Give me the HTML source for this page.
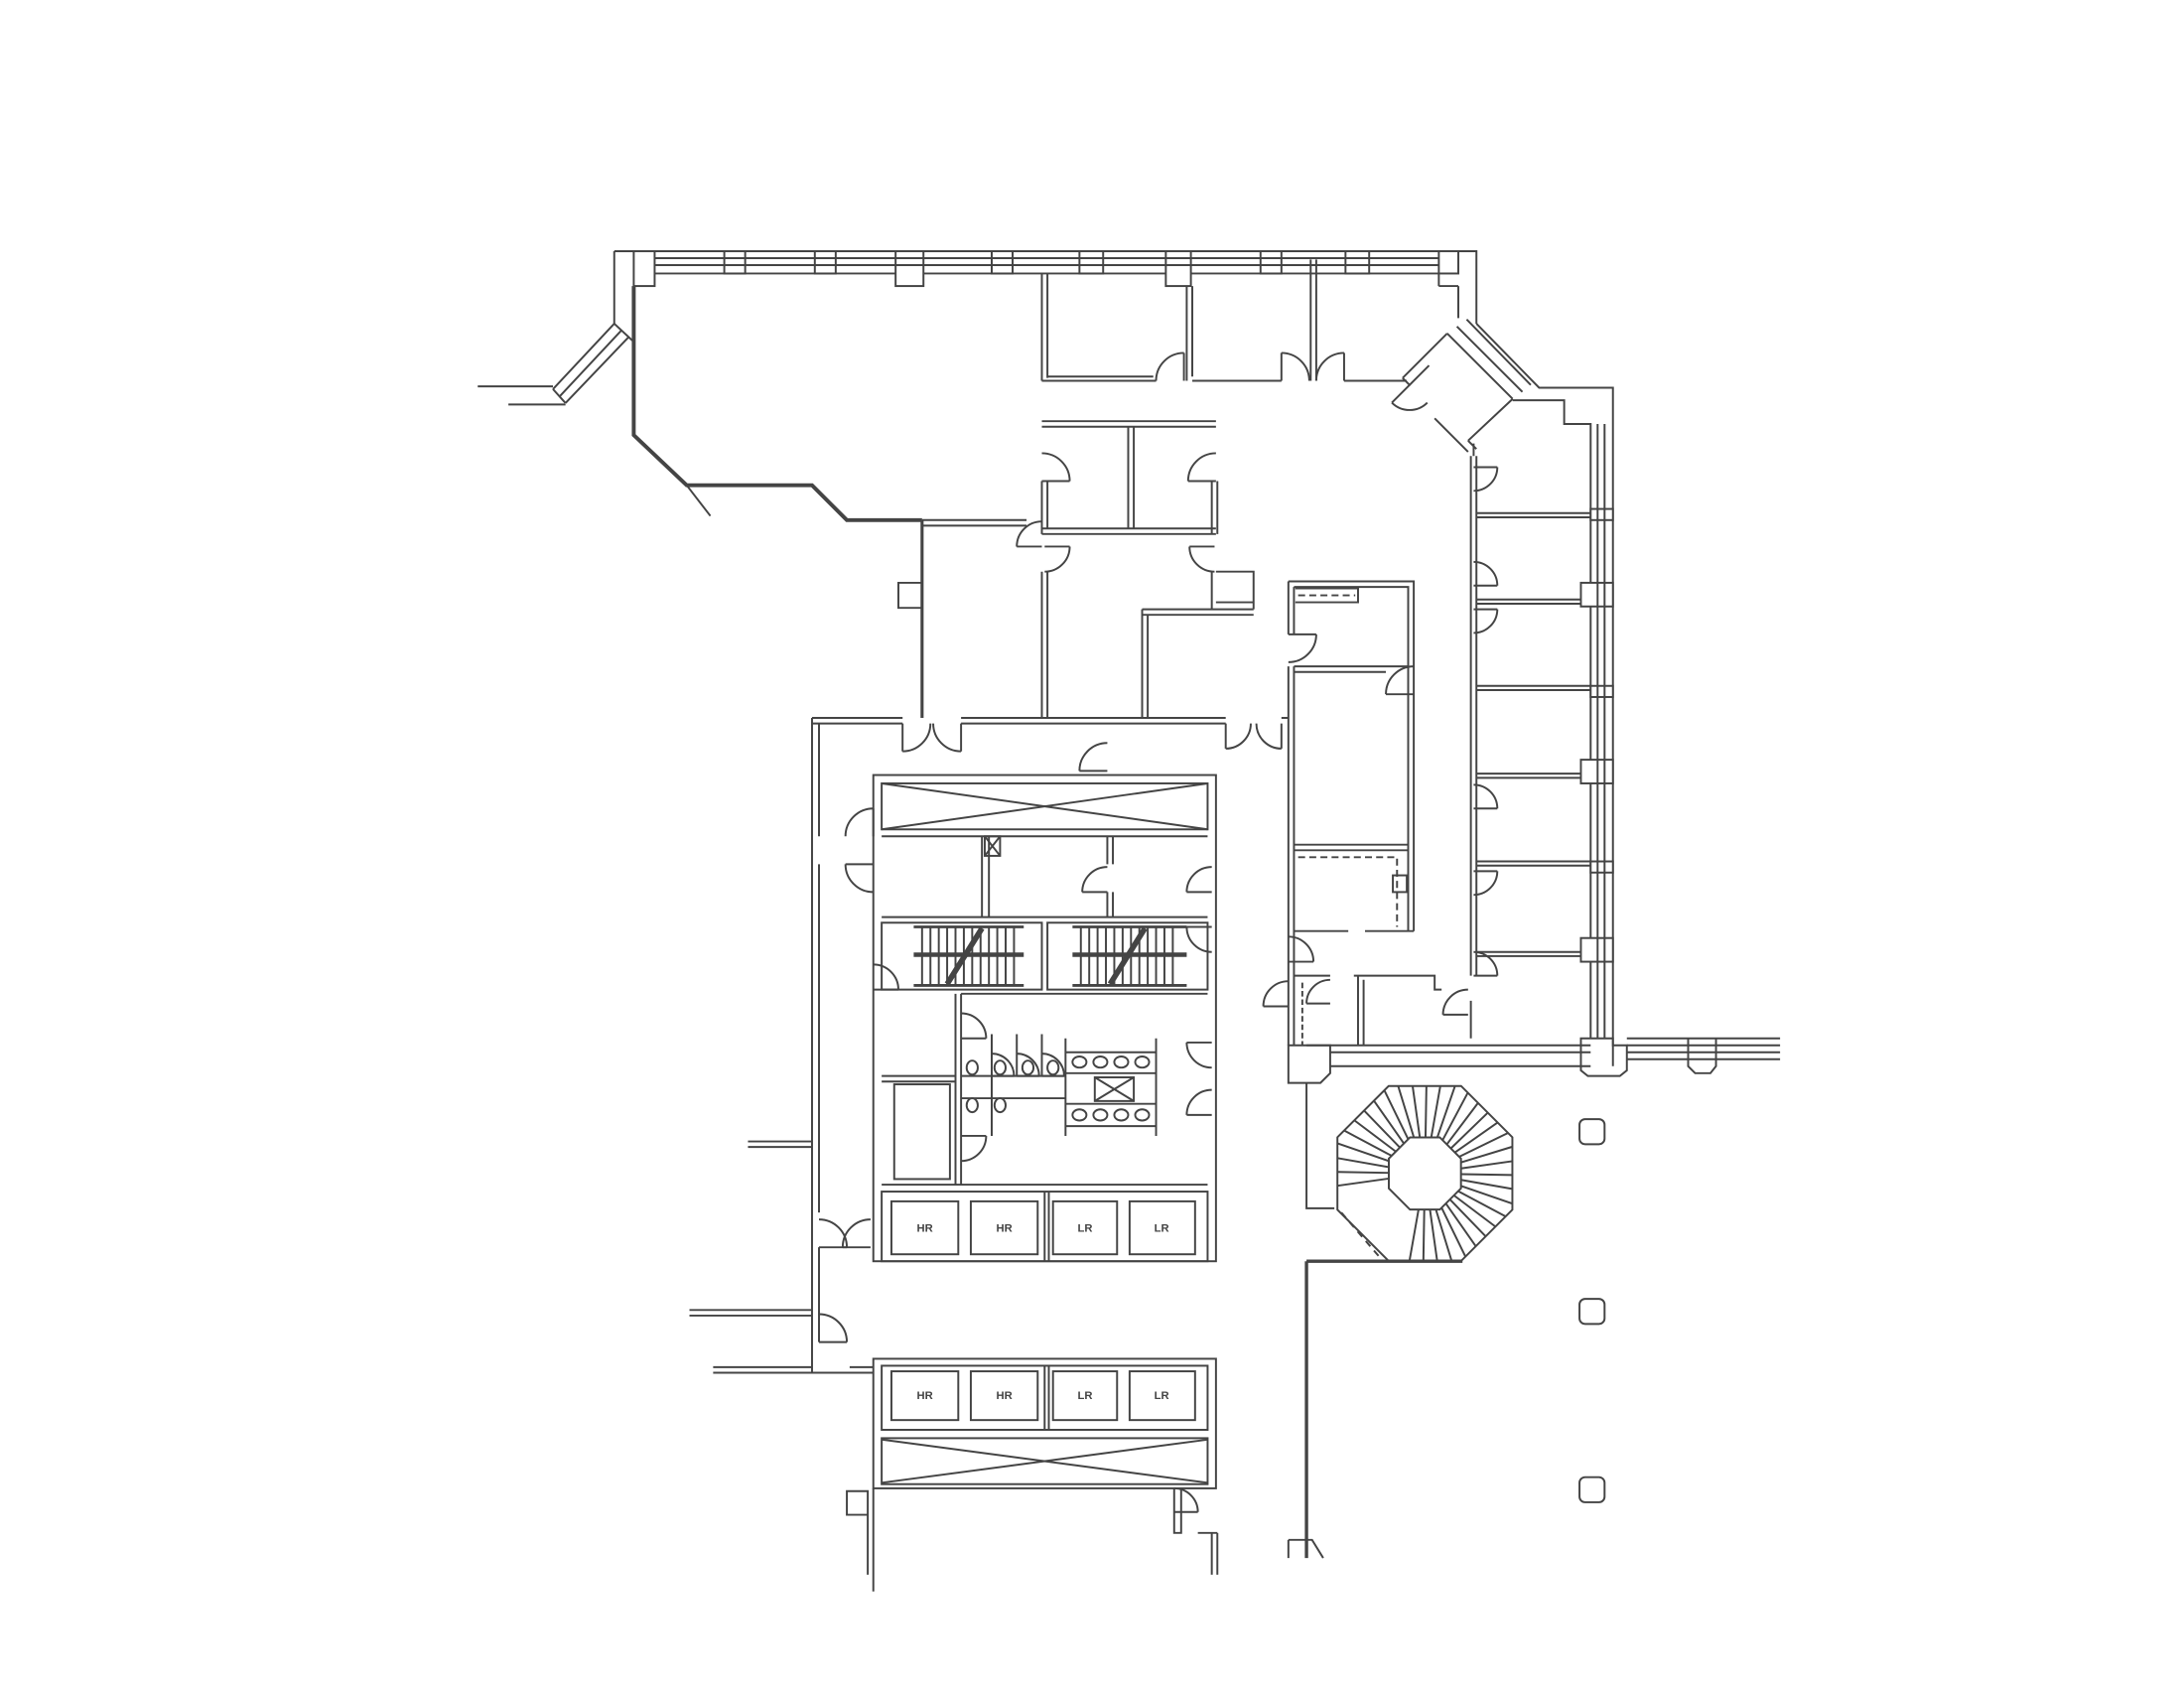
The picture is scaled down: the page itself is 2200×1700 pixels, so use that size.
<!DOCTYPE html>
<html><head><meta charset="utf-8"><style>
html,body{margin:0;padding:0;background:#fff;}
svg{display:block;}
text{font-family:"Liberation Sans",sans-serif;font-size:8px;fill:#444;font-weight:bold;}
</style></head><body>
<svg id="s" width="2200" height="1700" viewBox="0 0 1568 1211" xmlns="http://www.w3.org/2000/svg">
<g id="g" fill="none" stroke="#444" stroke-width="1.4" stroke-linejoin="miter">
<path d="M455,205 V312 L493,348 H583 L608,373 H662" stroke-width="2.8"/>
<path d="M493,348 L510,370"/>
<path d="M662,373 V515" stroke-width="2.2"/>
<path d="M441,232 L397,279 M446,237 L402,284 M451,242 L406,289 M441,232 L455,245 M397,279 L406,289"/>
<path d="M343,277 H397 M365,290 H406"/>
<path d="M441,180 V232"/>
<path d="M441,180 H1060 V232 M455,196 H1033"/>
<path d="M1060,232 L1105,278 H1158 V765 M1039,239 L1086,286 M1046,234 L1093,281 M1053,229 L1099,276"/>
<path d="M1047,205 V228 M1033,205 H1047 M1033,196 V205"/>
<path d="M1086,287 H1123 V304 H1142 V745"/>
<path d="M1007,271 L1039,239 M1054,316 L1086,286 M1007,271 L1012,276 L1026,262 M1030,300 L1054,324 M1058,318 L1058,327 M1054,316 L1060,322"/>
<path d="M748,196 V273 M752,196 V271 M748,273 H830 M752,270 H828"/>
<path d="M852,205 V273 M856,205 V270 M856,273 H920 M965,273 H1010"/>
<path d="M941,186 V273 M945,186 V273"/>
<path d="M748,302 H873 M748,306 H873 M748,383 H873 M748,379 H873 M810,306 V379 M814,306 V379"/>
<path d="M748,345 V383 M752,345 V379 M870,345 V383 M874,345 V383"/>
<path d="M748,410 V515 M752,410 V515 M870,410 V437"/>
<path d="M873,410 H900 V437 M873,432 H900" />
<path d="M820,437 H900 M820,441 H900 M820,437 V515 M824,441 V515"/>
<path d="M645,418 H662 V436 H645 Z"/>
<path d="M662,373 H737 M662,377 H737"/>
<path d="M583,515 H648 M690,515 H880 M920,515 H925 M583,519 H648 M690,519 H880 M583,515 V985 M588,519 V600 M588,620 V870 M588,895 V963"/>
<rect x="627" y="556" width="246" height="349"/>
<rect x="633" y="562" width="234" height="33"/>
<path d="M633,562 L867,595 M633,595 L867,562"/>
<path d="M633,600 H867 M633,658 H867 M705,600 V658 M710,600 V658 M795,600 V620 M795,640 V658 M799,600 V620 M799,640 V658"/>
<rect x="707" y="600" width="11" height="14"/><path d="M707,600 L718,614 M718,600 L707,614"/>
<rect x="633" y="662" width="115" height="48"/><rect x="752" y="662" width="115" height="48"/>
<path d="M686,713 V850 M690,713 V850 M690,713 H867 M633,850 H867 M690,850 H867"/>
<rect x="642" y="778" width="40" height="68"/>
<path d="M633,772 H686 M633,776 H686"/>
<path d="M765,745 V815 M830,745 V815 M765,755 H830 M765,770 H830 M765,792 H830 M765,808 H830"/>
<rect x="786" y="773" width="28" height="17"/><path d="M786,773 L814,790 M814,773 L786,790"/>
<path d="M690,772 H765 M690,788 H765 M712,742 V815 M730,742 V772 M748,742 V772"/>
<rect x="633" y="855" width="234" height="50"/><path d="M750,855 V905 M753,855 V905"/>
<rect x="640" y="862" width="48" height="38"/><rect x="697" y="862" width="48" height="38"/>
<rect x="756" y="862" width="46" height="38"/><rect x="811" y="862" width="47" height="38"/>
<rect x="627" y="975" width="246" height="93"/>
<rect x="633" y="980" width="234" height="46"/><path d="M750,980 V1026 M753,980 V1026"/>
<rect x="640" y="984" width="48" height="35"/><rect x="697" y="984" width="48" height="35"/>
<rect x="756" y="984" width="46" height="35"/><rect x="811" y="984" width="47" height="35"/>
<rect x="633" y="1032" width="234" height="33"/>
<path d="M633,1033 L867,1064 M633,1064 L867,1033"/>
<path d="M627,1068 V1142 M623,1070 V1130 M608,1070 H623 V1087 H608 Z M843,1068 V1100 H848 V1068 M870,1100 V1130 M874,1100 V1130 M860,1100 H874"/>
<path d="M537,819 H583 M537,823 H583 M495,940 H583 M495,944 H583 M512,981 H583 M512,985 H583 M583,985 H627 M610,981 H627"/>
<path d="M925,417 H1015 V668 M929,421 H1011 V668 M925,417 V455 M929,421 V455 M925,478 V750 M929,478 V750"/>
<path d="M930,422 H975 V432 H930"/><path d="M932,427 H973" stroke-dasharray="5,3"/>
<path d="M929,478 H1011 M929,482 H995 M929,606 H1011 M929,610 H1011"/>
<path d="M932,615 H1003 V665" stroke-dasharray="5,3"/>
<rect x="1000" y="628" width="10" height="12"/>
<path d="M929,668 H968 M980,668 H1015"/>
<path d="M929,700 H955 M972,700 H1030 V710 H1035 M975,700 V750 M979,703 V750"/>
<path d="M935,705 V750" stroke-dasharray="4,2"/>
<path d="M1056,327 V700 M1060,327 V700 M1056,718 V745"/>
<path d="M1060,368 H1142 M1060,371 H1142 M1060,430 H1135 M1060,433 H1135 M1060,492 H1142 M1060,495 H1142 M1060,555 H1135 M1060,558 H1135 M1060,618 H1142 M1060,621 H1142 M1060,683 H1135 M1060,686 H1135"/>
<path d="M938,750 H1142 M955,755 H1142 M955,765 H1142 M1168,745 H1278 M1168,760 H1278 M1168,750 H1278 M1168,755 H1278"/>
<path d="M925,750 H955 V770 L948,777 H925 Z"/>
<path d="M1135,745 H1158 V750 H1168 V768 L1163,772 H1140 L1135,768 Z"/>
<path d="M1212,745 V765 L1217,770 H1228 L1232,765 V745"/>
<path d="M938,777 V867 H958"/>
<path d="M938,905 V1118 M938,905 H1050" stroke-width="2.4"/>
<path d="M963,870 L993,905" stroke-dasharray="5,4"/>
<path d="M925,1105 V1118 M925,1105 H942 L950,1118"/>
<rect x="1134" y="803" width="18" height="18" rx="4"/>
<rect x="1134" y="932" width="18" height="18" rx="4"/>
<rect x="1134" y="1060" width="18" height="18" rx="4"/>
</g>
<g id="w" fill="#fff" stroke="#444" stroke-width="1.4"></g>
<g id="d" fill="none" stroke="#444" stroke-width="1.4"></g>
<g>
<text x="664" y="884" text-anchor="middle">HR</text><text x="721" y="884" text-anchor="middle">HR</text>
<text x="779" y="884" text-anchor="middle">LR</text><text x="834" y="884" text-anchor="middle">LR</text>
<text x="664" y="1004" text-anchor="middle">HR</text><text x="721" y="1004" text-anchor="middle">HR</text>
<text x="779" y="1004" text-anchor="middle">LR</text><text x="834" y="1004" text-anchor="middle">LR</text>
</g>
</svg>
<script>
var NS="http://www.w3.org/2000/svg";
function el(p,t,a){var e=document.createElementNS(NS,t);for(var k in a)e.setAttribute(k,a[k]);document.getElementById(p).appendChild(e);return e;}
function ln(x1,y1,x2,y2,p,w){el(p||'d','line',{x1:x1,y1:y1,x2:x2,y2:y2,'stroke-width':w||1.4});}
function door(hx,hy,r,a0,a1){var c=Math.PI/180;var x0=hx+r*Math.cos(a0*c),y0=hy+r*Math.sin(a0*c),x1=hx+r*Math.cos(a1*c),y1=hy+r*Math.sin(a1*c);
 ln(hx,hy,x1,y1);var sw=((a1-a0+360)%360)<180?1:0;el('d','path',{d:'M'+x0+','+y0+' A'+r+','+r+' 0 0 '+sw+' '+x1+','+y1});}
var piers=[[455,15,25],[520,15,16],[585,15,16],[643,20,25],[712,15,16],[775,17,16],[837,18,25],[905,15,16],[966,17,16],[1033,14,16]];
ln(470,185,1033,185,'d');ln(470,190,1033,190,'d');
for(var i=0;i<piers.length;i++){var p=piers[i];el('w','rect',{x:p[0],y:180,width:p[1],height:p[2]});}
ln(1147,304,1147,745);ln(1152,304,1152,745);
var rp=[[1142,365,8],[1135,418,17],[1142,492,8],[1135,545,17],[1142,618,8],[1135,673,17]];
for(i=0;i<rp.length;i++){var q=rp[i];el('w','rect',{x:q[0],y:q[1],width:1158-q[0],height:q[2]});}
door(850,273,20,180,270);door(920,273,20,0,270);door(965,273,20,180,270);
door(1012,276,18,45,135);
door(748,345,20,-90,0);door(873,345,20,-90,180);door(750,392,18,90,0);door(872,392,18,90,180);door(748,392,18,-90,180);
door(1058,335,17,90,0);door(1058,420,17,-90,0);door(1058,437,17,90,0);door(1058,580,17,-90,0);door(1058,625,17,90,0);door(1058,700,17,-90,0);
door(925,455,20,90,0);door(1015,498,20,-90,180);door(925,690,18,-90,0);door(925,722,18,-90,180);door(955,720,17,-90,180);door(1054,728,18,-90,180);
door(648,519,20,0,90);door(690,519,20,180,90);door(880,519,18,0,90);door(920,519,18,180,90);
door(795,553,20,-90,180);
door(627,600,20,180,270);door(627,620,20,90,180);
door(795,640,18,-90,180);door(870,640,18,-90,180);door(870,665,18,90,180);door(627,710,18,-90,0);
door(870,748,18,90,180);door(870,800,18,-90,180);door(690,745,18,-90,0);door(690,815,18,90,0);
door(588,895,20,-90,0);door(625,895,20,-90,180);door(588,963,20,-90,0);door(843,1085,17,-90,0);
door(712,772,16,-90,0);door(730,772,16,-90,0);door(748,772,16,-90,0);
var ux=[775,790,805,820];for(i=0;i<4;i++){el('d','ellipse',{cx:ux[i],cy:762,rx:5,ry:4});el('d','ellipse',{cx:ux[i],cy:800,rx:5,ry:4});}
var tx=[698,718,738,756];for(i=0;i<4;i++){el('d','ellipse',{cx:tx[i],cy:766,rx:4,ry:5});}
el('d','ellipse',{cx:698,cy:793,rx:4,ry:5});el('d','ellipse',{cx:718,cy:793,rx:4,ry:5});
function stair(x0,x1,bar0,bar1){for(var x=x0;x<=x1;x+=6){ln(x,665,x,707);}ln(bar0,685,bar1,685,'d',3.2);ln(bar0,665,bar1,665,'d',2);ln(bar0,707,bar1,707,'d',2);}
stair(662,728,656,735);stair(776,846,770,852);
ln(680,706,705,666,'d',4);ln(797,706,822,666,'d',4);
el('w','line',{x1:681,y1:705,x2:704,y2:667,'stroke-width':2,stroke:'#fff'});el('w','line',{x1:798,y1:705,x2:821,y2:667,'stroke-width':2,stroke:'#fff'});
var cx=1023,cy=842,R=68,r=28;function oct(rad){var s='';for(var k=0;k<8;k++){var a=(22.5+45*k)*Math.PI/180;s+=(k?'L':'M')+(cx+rad*Math.cos(a)).toFixed(1)+','+(cy+rad*Math.sin(a)).toFixed(1);}return s+'Z';}
el('d','path',{d:oct(R)});el('d','path',{d:oct(r)});
for(var k=0;k<40;k++){var a=(-170+k*9);if(a>100&&a<170)continue;var rr=a*Math.PI/180;
 var fo=Math.cos(Math.PI/8)/Math.cos(((a-22.5)%45+45)%45*Math.PI/180-Math.PI/8);
 ln(cx+r*fo*Math.cos(rr),cy+r*fo*Math.sin(rr),cx+R*fo*Math.cos(rr),cy+R*fo*Math.sin(rr));}
</script>
</body></html>
